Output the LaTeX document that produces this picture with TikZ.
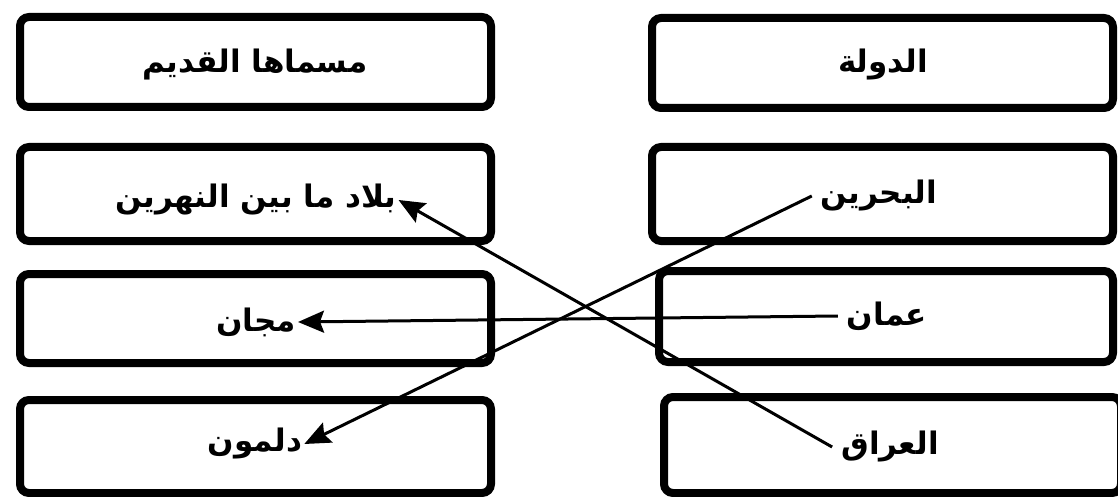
\documentclass[tikz,border=0pt]{standalone}
\usepackage{fontspec}
\usetikzlibrary{arrows.meta}
\TeXXeTstate=1
\newfontfamily\arabicfont[Script=Arabic]{DejaVu Sans}
\tikzset{
  box/.style={draw=black, line width=8pt, rounded corners=9pt, rectangle, inner sep=0pt},
  lbl/.style={font=\arabicfont\bfseries\fontsize{31}{36}\selectfont, inner ysep=0pt},
  rlbl/.style={lbl, inner xsep=9pt},
  llbl/.style={lbl, inner xsep=2pt},
  arr/.style={line width=3pt, -{Stealth[length=26pt,width=22pt,inset=4pt]}}
}
\begin{document}
\begin{tikzpicture}[x=1pt,y=-1pt]
\useasboundingbox (0,0) rectangle (1118,497);
\fill[white] (0,0) rectangle (1118,497);
% left column boxes
\node[box, minimum width=471pt, minimum height=90pt] (b1) at (255.5,62) {};
\node[box, minimum width=471pt, minimum height=94pt] (b2) at (255.5,194) {};
\node[box, minimum width=471pt, minimum height=89pt] (b3) at (255.5,318.5) {};
\node[box, minimum width=471pt, minimum height=93pt] (b4) at (255.5,446.5) {};
% right column boxes
\node[box, minimum width=461pt, minimum height=90pt] (r1) at (882.5,63) {};
\node[box, minimum width=461pt, minimum height=94pt] (r2) at (882.5,194) {};
\node[box, minimum width=454pt, minimum height=91pt] (r3) at (886,316.5) {};
\node[box, minimum width=457pt, minimum height=96pt] (r4) at (892.5,445) {};
% texts
\node[lbl] (hold) at (255,65) {\beginR مسماها القديم\endR};
\node[lbl] (hstate) at (883,65) {\beginR الدولة\endR};
\node[llbl] (mes) at (256,200) {\beginR بلاد ما بين النهرين\endR};
\node[llbl] (majan) at (256,322) {\beginR مجان\endR};
\node[llbl] (dilmun) at (255,444) {\beginR دلمون\endR};
\node[rlbl] (bahrain) at (879,196) {\beginR البحرين\endR};
\node[rlbl] (oman) at (887,316) {\beginR عمان\endR};
\node[rlbl] (iraq) at (890,447) {\beginR العراق\endR};
% connectors
\draw[arr] (iraq.west) -- (mes.east);
\draw[arr] (oman.west) -- (majan.east);
\draw[arr] (bahrain.west) -- (dilmun.east);
\end{tikzpicture}
\end{document}
